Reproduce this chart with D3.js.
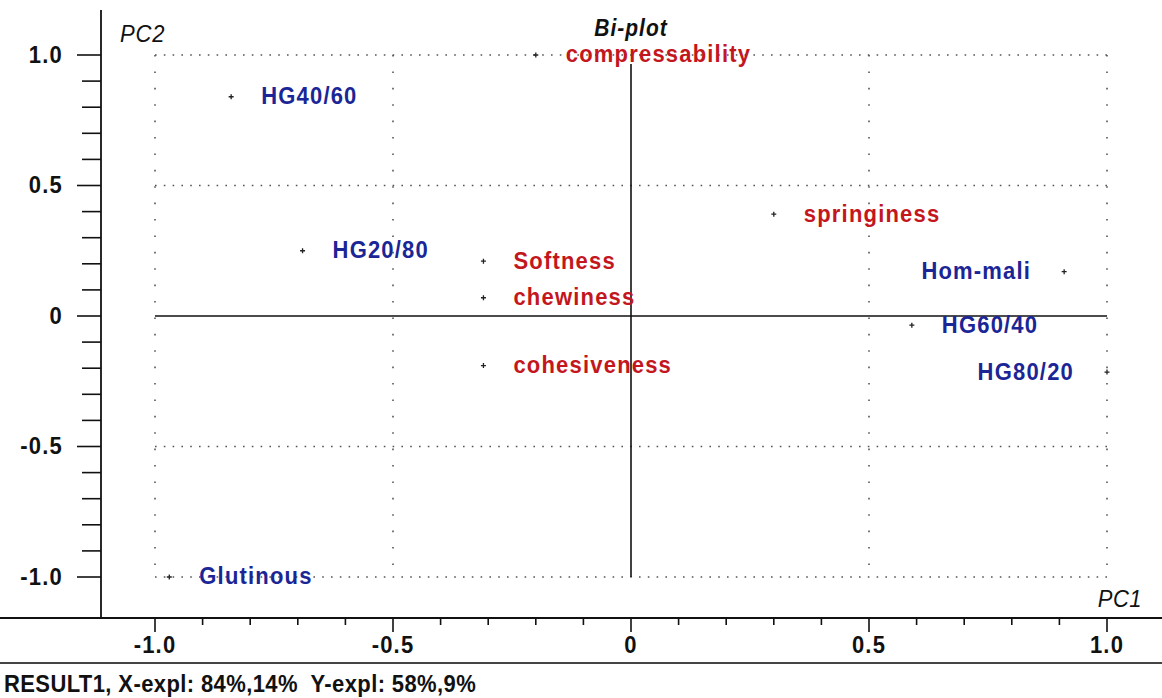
<!DOCTYPE html>
<html>
<head>
<meta charset="utf-8">
<script src="https://cdn.jsdelivr.net/npm/d3@7"></script>
<style>
  html, body { margin: 0; padding: 0; background: #fff; }
  svg { display: block; }
  text { font-family: "Liberation Sans", Arial, sans-serif; white-space: pre; }
</style>
</head>
<body>
<svg id="chart" width="1162" height="698"></svg>
<script>
// ---- data ----
const names = ["compressability", "HG40/60", "HG20/80", "Softness", "chewiness", "cohesiveness",
               "springiness", "Hom-mali", "HG60/40", "HG80/20", "Glutinous"];
const pc1 = [-0.20, -0.84, -0.69, -0.31, -0.31, -0.31, 0.30, 0.91, 0.59, 1.00, -0.97];
const pc2 = [1.00, 0.84, 0.25, 0.21, 0.07, -0.19, 0.39, 0.17, -0.035, -0.215, -1.00];
const kind = ["variable", "sample", "sample", "variable", "variable", "variable",
              "variable", "sample", "sample", "sample", "sample"];
const xTickLabels = ["-1.0", "-0.5", "0", "0.5", "1.0"];
const yTickLabels = ["-1.0", "-0.5", "0", "0.5", "1.0"];
const majorTicks = [-1, -0.5, 0, 0.5, 1];
const title = "Bi-plot";
const xName = "PC1";
const yName = "PC2";
const footer = "RESULT1, X-expl: 84%,14%  Y-expl: 58%,9%";

// ---- layout ----
const W = 1162, H = 698;
const svg = d3.select("#chart");
const x = d3.scaleLinear().domain([-1, 1]).range([155, 1107]);
const y = d3.scaleLinear().domain([-1, 1]).range([577, 55]);
const axisX = 101;     // vertical axis position
const axisY = 618;     // horizontal axis position
const colors = { variable: "#c3161d", sample: "#1b2696" };
const labelFont = { size: 22, spacing: 1.2 };
const stretch = 1.1;   // vertical stretch of glyphs

function stretchText(sel) {
  sel.each(function () {
    const t = d3.select(this);
    const by = +t.attr("y");
    t.attr("transform", `translate(0,${by}) scale(1,${stretch}) translate(0,${-by})`);
  });
}

// dotted grid
const g = svg.append("g");
const gridVals = [-1, -0.5, 0.5, 1];
g.selectAll(".hgrid").data(gridVals).join("line")
  .attr("x1", x(-1)).attr("x2", x(1))
  .attr("y1", d => y(d)).attr("y2", d => y(d))
  .attr("stroke", "#555").attr("stroke-width", 1.6)
  .attr("stroke-dasharray", "1.6 7.2");
g.selectAll(".vgrid").data(gridVals).join("line")
  .attr("x1", d => x(d)).attr("x2", d => x(d))
  .attr("y1", y(1)).attr("y2", y(-1))
  .attr("stroke", "#555").attr("stroke-width", 1.6)
  .attr("stroke-dasharray", "1.6 14.8");

// zero lines
g.append("line").attr("x1", x(-1)).attr("x2", x(1)).attr("y1", y(0)).attr("y2", y(0))
  .attr("stroke", "#111").attr("stroke-width", 1.6);
g.append("line").attr("x1", x(0)).attr("x2", x(0)).attr("y1", y(1) + 9).attr("y2", y(-1))
  .attr("stroke", "#111").attr("stroke-width", 1.6);

// axes
const ticks = d3.range(-10, 11).map(i => i / 10);
const isMajor = v => majorTicks.some(m => Math.abs(m - v) < 1e-9);

svg.append("line").attr("x1", axisX).attr("x2", axisX).attr("y1", 10).attr("y2", axisY)
  .attr("stroke", "#111").attr("stroke-width", 1.8);
svg.append("line").attr("x1", 0).attr("x2", W).attr("y1", axisY).attr("y2", axisY)
  .attr("stroke", "#111").attr("stroke-width", 1.8);

svg.selectAll(".ytick").data(ticks).join("line")
  .attr("x1", d => isMajor(d) ? axisX - 24 : axisX - 19).attr("x2", axisX)
  .attr("y1", d => y(d)).attr("y2", d => y(d))
  .attr("stroke", "#111").attr("stroke-width", 1.6);
svg.selectAll(".xtick").data(ticks).join("line")
  .attr("y1", axisY).attr("y2", d => isMajor(d) ? axisY + 14 : axisY + 7)
  .attr("x1", d => x(d)).attr("x2", d => x(d))
  .attr("stroke", "#111").attr("stroke-width", 1.6);

svg.selectAll(".ylab").data(majorTicks).join("text")
  .attr("x", 63).attr("y", d => y(d) + 8)
  .attr("text-anchor", "end")
  .attr("font-size", 22).attr("font-weight", "bold").attr("letter-spacing", 1.2)
  .attr("fill", "#111")
  .text((d, i) => yTickLabels[i])
  .call(stretchText);
svg.selectAll(".xlab").data(majorTicks).join("text")
  .attr("x", d => x(d)).attr("y", 653)
  .attr("text-anchor", "middle")
  .attr("font-size", 22).attr("font-weight", "bold").attr("letter-spacing", 1.2)
  .attr("fill", "#111")
  .text((d, i) => xTickLabels[i])
  .call(stretchText);

// footer separator & text
svg.append("line").attr("x1", 0).attr("x2", W).attr("y1", 663).attr("y2", 663)
  .attr("stroke", "#444").attr("stroke-width", 2);
svg.append("text").attr("x", 4).attr("y", 692)
  .attr("font-size", 22).attr("font-weight", "bold").attr("letter-spacing", 0.4)
  .attr("fill", "#111").text(footer)
  .call(stretchText);

// titles
svg.append("text").attr("x", x(0)).attr("y", 36).attr("text-anchor", "middle")
  .attr("font-size", 21).attr("font-style", "italic").attr("font-weight", "bold")
  .attr("letter-spacing", 1).attr("fill", "#111").text(title)
  .call(stretchText);
svg.append("text").attr("x", 120).attr("y", 42)
  .attr("font-size", 22).attr("font-style", "italic").attr("letter-spacing", 0.8)
  .attr("fill", "#111").text(yName)
  .call(stretchText);
svg.append("text").attr("x", 1142).attr("y", 607).attr("text-anchor", "end")
  .attr("font-size", 22).attr("font-style", "italic").attr("letter-spacing", 0.5)
  .attr("fill", "#111").text(xName)
  .call(stretchText);

// points
const pts = names.map((n, i) => ({ name: n, px: pc1[i], py: pc2[i], kind: kind[i] }));
const pg = svg.append("g");
pts.forEach(p => {
  const cx = x(p.px), cy = y(p.py);
  pg.append("path")
    .attr("d", `M${cx - 2.5},${cy}H${cx + 2.5}M${cx},${cy - 2.5}V${cy + 2.5}`)
    .attr("stroke", "#222").attr("stroke-width", 1.3);
  const t = pg.append("text")
    .attr("y", cy + 7.5)
    .attr("font-size", labelFont.size).attr("font-weight", "bold")
    .attr("letter-spacing", labelFont.spacing)
    .attr("fill", colors[p.kind]).text(p.name);
  const w = t.node().getComputedTextLength();
  if (cx + 30 + w > x(1)) {
    t.attr("x", cx - 33).attr("text-anchor", "end");
  } else {
    t.attr("x", cx + 30);
  }
  t.call(stretchText);
});
</script>
</body>
</html>
